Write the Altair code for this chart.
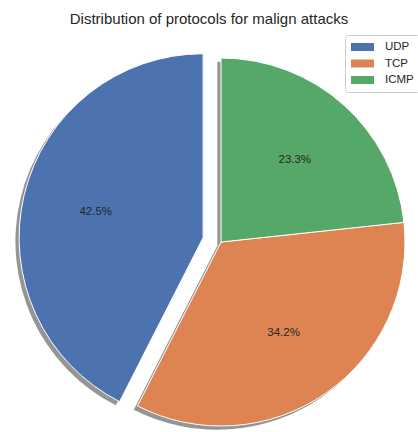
import math
import altair as alt
import pandas as pd

# ---- data ----
protocols = ["UDP", "TCP", "ICMP"]
shares = [42.5, 34.2, 23.3]
colors = ["#4C72B0", "#DD8452", "#55A868"]
# matplotlib draws counter-clockwise from 12 o'clock; Vega goes clockwise,
# so the clockwise drawing order is ICMP, TCP, UDP
draw_order = [3, 2, 1]
exploded = "UDP"

df = pd.DataFrame({"protocol": protocols, "share": shares, "ord": draw_order})

# ---- layout ----
W, H, TOP = 418, 432, 35
CX, CY, R = 221, 242 - TOP, 184
EXPLODE = 0.1 * R
SHADOW = 0.02 * R
LABEL_R = 0.6 * R

# explode direction of the exploded slice (from the data)
total = sum(shares)
ordered = sorted(zip(draw_order, protocols, shares))
acc = 0.0
mid_frac = 0.0
for _, p, s in ordered:
    if p == exploded:
        mid_frac = (acc + s / 2) / total
    acc += s
ang = 2 * math.pi * mid_frac
EX, EY = EXPLODE * math.sin(ang), -EXPLODE * math.cos(ang)

theta_scale = alt.Scale(domain=[0, total], range=[0, 2 * math.pi])
color_scale = alt.Scale(domain=protocols, range=colors)

base = alt.Chart(df).transform_window(
    cum="sum(share)", sort=[alt.SortField("ord")], frame=[None, 0]
).transform_calculate(
    start="datum.cum - datum.share",
    mid="datum.cum - datum.share / 2",
    label="format(datum.share, '.1f') + '%'",
)

main_f = f"datum.protocol != '{exploded}'"
expl_f = f"datum.protocol == '{exploded}'"


def arcs(filt, cx, cy, shadow=False, legend=False):
    if shadow:
        mk = base.transform_filter(filt).mark_arc(fill="#2b2b2b", opacity=0.5, radius=R)
        return mk.encode(
            theta=alt.Theta("start:Q", scale=theta_scale),
            theta2="cum:Q",
            x=alt.value(cx),
            y=alt.value(cy),
        )
    leg = None
    if legend:
        leg = alt.Legend(
            orient="none",
            legendX=345,
            legendY=0,
            title=None,
            symbolType="M-1,-0.667L2.833,-0.667L2.833,0.667L-1,0.667Z",
            symbolSize=144,
            symbolStrokeWidth=0,
            symbolOpacity=1,
            labelFont="Liberation Sans",
            labelFontSize=11.5,
            labelColor="#262626",
            labelOffset=22,
            fillColor="white",
            strokeColor="#cccccc",
            cornerRadius=3,
            padding=6,
            rowPadding=4.5,
        )
    mk = base.transform_filter(filt).mark_arc(radius=R, stroke="white", strokeWidth=1)
    return mk.encode(
        theta=alt.Theta("start:Q", scale=theta_scale),
        theta2="cum:Q",
        color=alt.Color("protocol:N", scale=color_scale, legend=leg, sort=protocols),
        x=alt.value(cx),
        y=alt.value(cy),
    )


def labels(filt, cx, cy):
    return base.transform_filter(filt).mark_text(
        font="Liberation Sans", fontSize=11.5, color="#262626"
    ).encode(
        theta=alt.Theta("mid:Q", scale=theta_scale),
        radius=alt.value(LABEL_R),
        text="label:N",
        x=alt.value(cx),
        y=alt.value(cy),
    )


chart = alt.layer(
    arcs(main_f, CX - SHADOW, CY + SHADOW, shadow=True),
    arcs(expl_f, CX + EX - SHADOW, CY + EY + SHADOW, shadow=True),
    arcs(main_f, CX, CY, legend=True),
    arcs(expl_f, CX + EX, CY + EY),
    labels(main_f, CX, CY),
    labels(expl_f, CX + EX, CY + EY),
).properties(
    width=W,
    height=H - TOP,
    background="white",
    autosize=alt.AutoSizeParams(type="none"),
    padding={"top": TOP, "left": 0, "right": 0, "bottom": 0},
    title=alt.TitleParams(
        "Distribution of protocols for malign attacks",
        font="Liberation Sans",
        fontSize=15,
        fontWeight="normal",
        color="#262626",
        anchor="middle",
        baseline="alphabetic",
        frame="group",
        offset=-4,
    ),
).configure_view(strokeWidth=0)

chart.save("out.html", embed_options={"renderer": "svg", "actions": False})
